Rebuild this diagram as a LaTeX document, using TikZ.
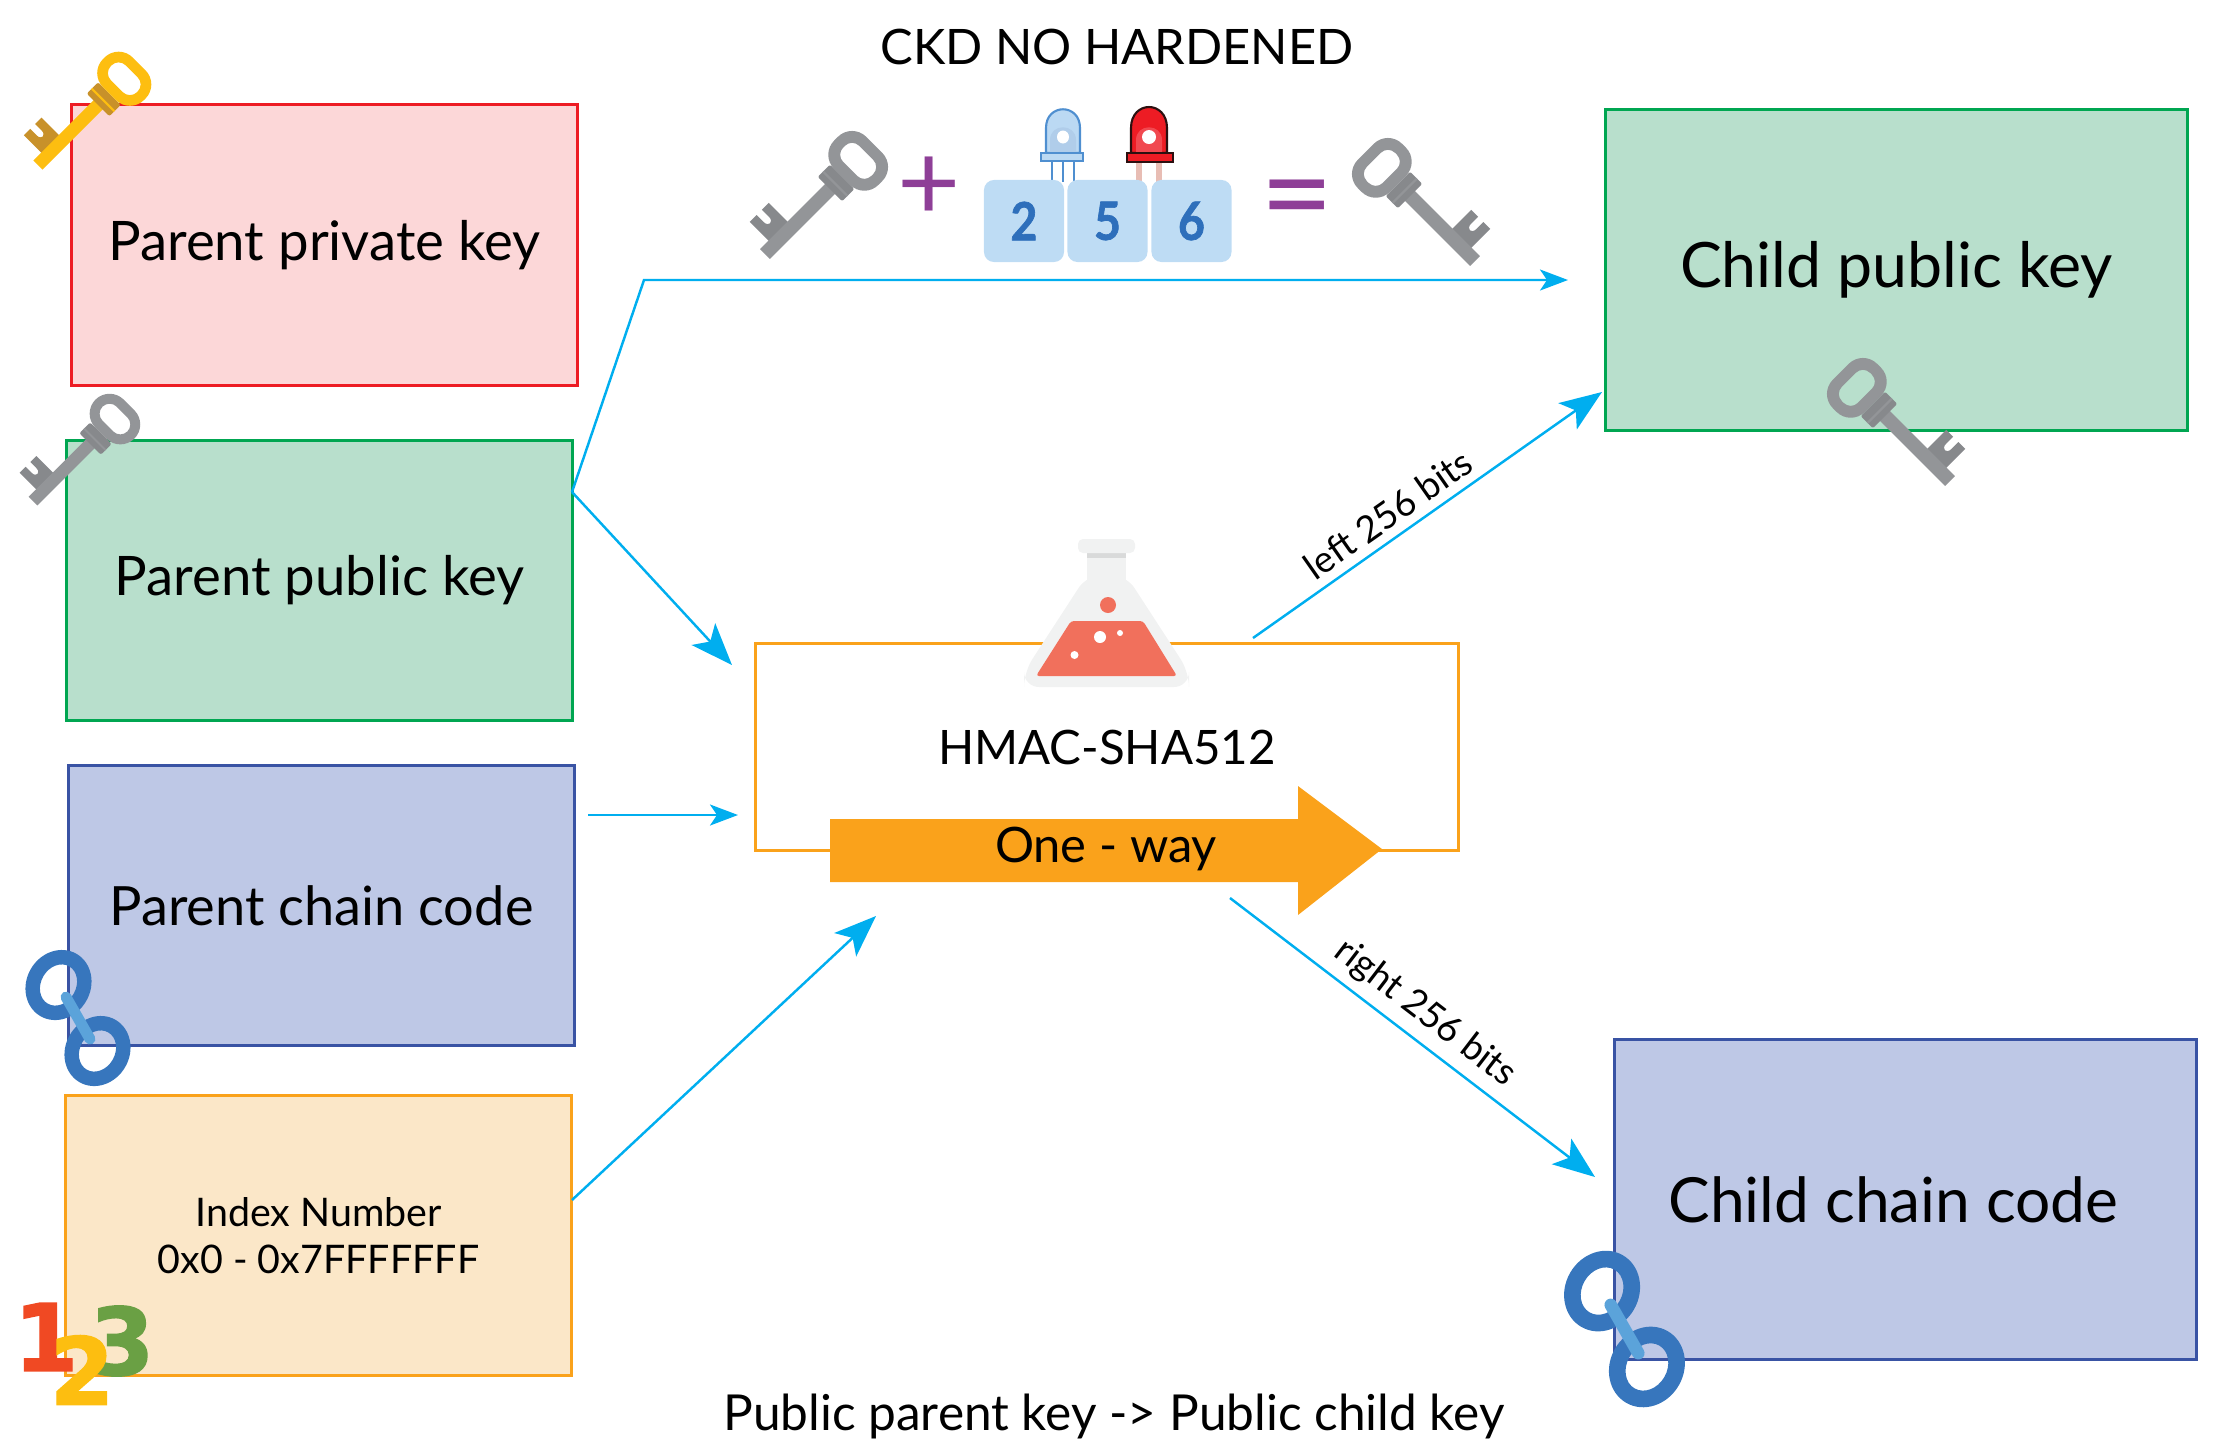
\documentclass[tikz,border=0pt]{standalone}
\usepackage{fontspec}
\setmainfont{Lato}
\newfontfamily\numfont[FakeBold=1.5]{DejaVu Sans}
\newfontfamily\digitfont[FakeBold=1.3,FakeStretch=0.88]{Lato}
\usetikzlibrary{arrows.meta}

\definecolor{redline}{HTML}{ED1C24}
\definecolor{redfill}{HTML}{FCD7D8}
\definecolor{greenline}{HTML}{00A651}
\definecolor{greenfill}{HTML}{B8DFCC}
\definecolor{blueline}{HTML}{3953A4}
\definecolor{bluefill}{HTML}{BEC8E6}
\definecolor{orangeline}{HTML}{FAA21B}
\definecolor{orangefill}{HTML}{FBE7C8}
\definecolor{flowcol}{HTML}{00AEEF}
\definecolor{plumcol}{HTML}{8E3F97}
\definecolor{tilecol}{HTML}{BEDCF4}
\definecolor{digitcol}{HTML}{2E6FBB}
\definecolor{keygrey}{HTML}{939598}
\definecolor{keygreydark}{HTML}{87898C}
\definecolor{keygold}{HTML}{FDBE10}
\definecolor{keygolddark}{HTML}{C8912A}
\definecolor{chaincol}{HTML}{3776BD}
\definecolor{linkcol}{HTML}{5BA3DA}
\definecolor{flaskcol}{HTML}{F1F2F2}
\definecolor{liquidcol}{HTML}{F1705C}
\definecolor{numred}{HTML}{F04923}
\definecolor{numgreen}{HTML}{6AA044}
\definecolor{numyellow}{HTML}{FDBE10}
\definecolor{ledblue}{HTML}{4F8FD0}
\definecolor{ledbluefill}{HTML}{BBD9F3}
\definecolor{ledred}{HTML}{2B1010}
\definecolor{ledleg}{HTML}{E8BDB4}

\tikzset{
  keybox/.style={draw, line width=0.85pt, inner sep=0pt, align=center},
  flow/.style={draw=flowcol, line width=0.7pt, -{Stealth[length=0.42cm,width=0.32cm,inset=0.1cm]}},
  flowsmall/.style={draw=flowcol, line width=0.7pt, -{Stealth[length=0.28cm,width=0.21cm,inset=0.07cm]}},
  tile/.style={fill=tilecol, rounded corners=0.1cm, minimum width=0.8cm, minimum height=0.82cm,
    inner sep=0pt, text=digitcol, font=\digitfont\fontsize{15}{15}\selectfont\bfseries},
  plussign/.style={text=plumcol, inner sep=0pt, font=\fontsize{31}{31}\selectfont},
  equalsign/.style={text=plumcol, inner sep=0pt, font=\fontsize{36}{36}\selectfont},
  onenum/.style={inner sep=0pt, font=\numfont\fontsize{26.5}{26.5}\selectfont\bfseries},
  bitlabel/.style={inner sep=0pt, font=\fontsize{10.5}{13}\selectfont},
  plain/.style={inner sep=0pt, font=\fontsize{13.9}{16}\selectfont}
}

% key: position of the shaft end, xscale, yscale, colour, dark colour
\newcommand{\drawkey}[5]{
  \begin{scope}[shift={#1}, xscale=#2, yscale=#3, rotate=45]
    \fill[#5] (11,-5) -- (11,-31) -- (20,-31) -- (20,-22) .. controls (20,-15) and (27,-15) .. (27,-22)
      -- (27,-31) -- (36,-31) -- (36,-5) -- cycle;
    \fill[#4] (0,-6.5) rectangle (90,6.5);
    \fill[#5, rounded corners=0.02cm] (85,-16) rectangle (101,16);
    \fill[#4] (91,-16) rectangle (93,16);
    \fill[#4, even odd rule] [rounded corners=0.2cm] (101,-29) rectangle (143,29)
      [rounded corners=0.1cm] (111.5,-18.5) rectangle (132.5,18.5);
  \end{scope}
}

% chain: centre, scale
\newcommand{\drawchain}[2]{
  \begin{scope}[shift={#1}, scale=#2]
    \fill[chaincol, even odd rule, rotate around={60:(-19.5,-33)}] (-19.5,-33) ellipse [x radius=36, y radius=32]
      (-19.5,-33) ellipse [x radius=21.5, y radius=17.5];
    \fill[chaincol, even odd rule, rotate around={60:(19.5,33)}] (19.5,33) ellipse [x radius=36, y radius=32]
      (19.5,33) ellipse [x radius=21.5, y radius=17.5];
    \draw[linkcol, line width=3.1pt*#2, line cap=round] (-12,-21) -- (12,21);
  \end{scope}
}

\begin{document}
\begin{tikzpicture}[x=0.01cm, y=-0.01cm]
\useasboundingbox (0,0) rectangle (2232,1453);

% input and output boxes
\node[keybox, draw=redline, fill=redfill, minimum width=5.05cm, minimum height=2.8cm,
  font=\fontsize{15.5}{18}\selectfont] (privkey) at (324.5,245) {Parent private key};
\node[keybox, draw=greenline, fill=greenfill, minimum width=5.05cm, minimum height=2.8cm,
  font=\fontsize{15.5}{18}\selectfont] (pubkey) at (319.5,580.5) {Parent public key};
\node[keybox, draw=blueline, fill=bluefill, minimum width=5.06cm, minimum height=2.79cm,
  font=\fontsize{15.4}{18}\selectfont] (chaincode) at (321.5,905.5) {Parent chain code};
\node[keybox, draw=orangeline, fill=orangefill, minimum width=5.06cm, minimum height=2.79cm,
  font=\fontsize{11.2}{13.5}\selectfont] (indexnum) at (318.5,1235.5) {Index Number\\0x0 - 0x7FFFFFFF};
\node[keybox, draw=greenline, fill=greenfill, minimum width=5.81cm, minimum height=3.2cm,
  font=\fontsize{17.8}{21}\selectfont] (childpub) at (1896.5,270) {Child public key};
\node[keybox, draw=blueline, fill=bluefill, minimum width=5.82cm, minimum height=3.19cm,
  font=\fontsize{17.7}{21}\selectfont] (childchain) at (1905.5,1199.5) {Child chain code\hspace*{0.24cm}};
\node[keybox, draw=orangeline, minimum width=7.02cm, minimum height=2.06cm,
  font=\fontsize{13.5}{16}\selectfont] (hmac) at (1107,747) {HMAC-SHA512};

% one way arrow
\fill[orangeline] (830,819) -- (1298,819) -- (1298,786) -- (1382,849) -- (1298,915) -- (1298,882) -- (830,882) -- cycle;
\node[plain] (oneway) at (1106,849) {One - way};

% titles
\node[plain] (title) at (1117,47) {CKD NO HARDENED};
\node[plain, font=\fontsize{14.1}{16}\selectfont] (footer) at (1114,1416) {Public parent key -> Public child key};

% connectors
\coordinate (pubout) at (572,492);
\coordinate (bendtop) at (644,280);
\coordinate (topend) at (1568,280);
\coordinate (hmacin) at (732,665);
\coordinate (chainout) at (588,815);
\coordinate (chainin) at (738,815);
\coordinate (indexout) at (572,1200);
\coordinate (indexin) at (876,916);
\coordinate (leftout) at (1253,638);
\coordinate (leftin) at (1602,392);
\coordinate (rightout) at (1230,898);
\coordinate (rightin) at (1595,1177);
\draw[flowsmall] (pubout) -- (bendtop) -- (topend);
\draw[flow] (pubout) -- (hmacin);
\draw[flowsmall] (chainout) -- (chainin);
\draw[flow] (indexout) -- (indexin);
\draw[flow] (leftout) -- (leftin);
\draw[flow] (rightout) -- (rightin);
\node[bitlabel, rotate=35] (leftbits) at (1388,514) {left 256 bits};
\node[bitlabel, rotate=-37.5] (rightbits) at (1425,1013) {right 256 bits};

% keys
\drawkey{(38,165)}{1}{1}{keygold}{keygolddark}
\drawkey{(33,501)}{0.95}{0.95}{keygrey}{keygreydark}
\drawkey{(765,254)}{1.08}{1.08}{keygrey}{keygreydark}
\drawkey{(1475,261)}{-1.08}{1.08}{keygrey}{keygreydark}
\drawkey{(1950,481)}{-1.08}{1.08}{keygrey}{keygreydark}

% chains
\drawchain{(78,1018)}{1}
\drawchain{(1624.5,1329)}{1.15}

% numbers
\node[onenum, text=numred] (numone) at (46,1337) {1};
\node[onenum, text=numgreen] (numthree) at (122,1341) {3};
\node[onenum, text=numyellow] (numtwo) at (82,1370) {2};

% blue led
\foreach \lx in {1052,1063,1074}
  \draw[ledblue, line width=0.6pt] (\lx,161) -- (\lx,182);
\filldraw[fill=ledbluefill, draw=ledblue, line width=0.6pt] (1046,153) -- (1046,128) .. controls (1046,103) and (1080,103) .. (1080,128) -- (1080,153) -- cycle;
\fill[ledblue!45!white] (1050,153) -- (1050,140) .. controls (1050,123) and (1076,123) .. (1076,140) -- (1076,153) -- cycle;
\filldraw[fill=ledbluefill, draw=ledblue, line width=0.6pt] (1041,153) rectangle (1083,161);
\fill[white] (1063,137) ellipse [x radius=6, y radius=6.5];
% red led
\foreach \lx in {1139,1159}
  \draw[ledleg, line width=1.6pt] (\lx,162) -- (\lx,182);
\filldraw[fill=redline, draw=ledred, line width=0.6pt] (1131,153) -- (1131,128) .. controls (1131,100) and (1167,100) .. (1167,128) -- (1167,153) -- cycle;
\fill[redline!80!white] (1136,153) -- (1136,140) .. controls (1136,123) and (1162,123) .. (1162,140) -- (1162,153) -- cycle;
\filldraw[fill=redline, draw=ledred, line width=0.8pt] (1127,153) rectangle (1173,162);
\fill[white] (1149,137) ellipse [x radius=7, y radius=7];

% bits
\node[tile] (digittwo) at (1024,221) {2};
\node[tile] (digitfive) at (1107.5,221) {5};
\node[tile] (digitsix) at (1191.5,221) {6};
\node[plussign] (plus) at (929,189) {+};
\node[equalsign] (equal) at (1297,209) {=};

% flask
\fill[flaskcol, rounded corners=0.15cm] (1087,575) -- (1024,672) -- (1024,687) -- (1189,687) -- (1189,672) -- (1126,575) -- cycle;
\fill[flaskcol] (1087,553) rectangle (1126,585);
\fill[flaskcol!90!black] (1087,553) rectangle (1126,558);
\fill[flaskcol, rounded corners=0.05cm] (1078,539) rectangle (1135,553);
\fill[liquidcol, rounded corners=0.03cm] (1071,621) -- (1143,621) -- (1177,676) -- (1036,676) -- cycle;
\fill[liquidcol] (1108,605) circle [radius=8];
\fill[white] (1100,637) circle [radius=6];
\fill[white] (1120,633) circle [radius=3];
\fill[white] (1074.5,655) circle [radius=4];
\end{tikzpicture}
\end{document}
